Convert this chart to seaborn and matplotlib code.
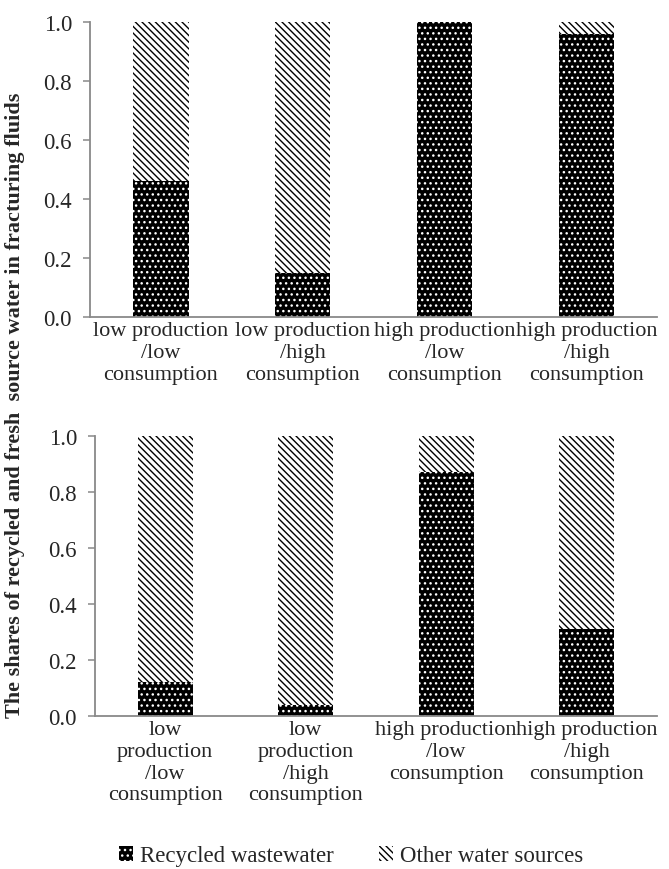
import matplotlib
matplotlib.use('Agg')
import matplotlib.pyplot as plt
from matplotlib.patches import Patch
from matplotlib.ticker import FixedLocator, FormatStrFormatter
import numpy as np
import pandas as pd
import seaborn as sns

# scenarios (tick labels differ a bit between the two panels)
labels_top = ['low production\n/low\nconsumption', 'low production\n/high\nconsumption',
              'high production\n/low\nconsumption', 'high production\n/high\nconsumption']
labels_bot = ['low\nproduction\n/low\nconsumption', 'low\nproduction\n/high\nconsumption',
              'high production\n/low\nconsumption', 'high production\n/high\nconsumption']

# shares of recycled wastewater / other water sources
recycled_top = [0.46, 0.15, 1.00, 0.96]
other_top = [0.54, 0.85, 0.00, 0.04]
recycled_bot = [0.12, 0.04, 0.87, 0.31]
other_bot = [0.88, 0.96, 0.13, 0.69]

GREY = '#898989'
H_OTHER = '\\\\\\\\\\'   # dense diagonal lines
H_RECY = '...'

sns.set_style('white')
plt.rcParams['font.family'] = ['Liberation Serif', 'DejaVu Serif']
plt.rcParams['hatch.linewidth'] = 1.0


def panel(ax, labels, recycled, other):
    df = pd.DataFrame({'scenario': labels,
                       'recycled': recycled,
                       'total': np.array(recycled) + np.array(other)})
    # stacked bars: full height with "other" hatch, then recycled part on top of it
    sns.barplot(data=df, x='scenario', y='total', ax=ax, color='white',
                edgecolor='black', linewidth=0, hatch=H_OTHER, width=0.39)
    sns.barplot(data=df, x='scenario', y='recycled', ax=ax, color='black',
                edgecolor='white', linewidth=0, hatch=H_RECY, width=0.39)
    ax.set_xlim(-0.5, 3.5)
    ax.set_ylim(0, 1.0)
    ax.set_yticks(np.arange(0, 1.01, 0.2))
    ax.yaxis.set_major_formatter(FormatStrFormatter('%.1f'))
    ax.set_xlabel('')
    ax.set_ylabel('')
    ax.set_xticks(range(4))
    ax.set_xticklabels(labels, fontsize=16, linespacing=1.2)
    ax.xaxis.set_minor_locator(FixedLocator([-0.5, 0.5, 1.5, 2.5, 3.5]))
    ax.tick_params(axis='x', which='major', length=0, pad=3)
    ax.tick_params(axis='x', which='minor', length=7, color=GREY, width=1.1, direction='out')
    ax.tick_params(axis='y', length=5, color=GREY, width=1.1, direction='out',
                   labelsize=16.5, pad=8, left=True)
    for s in ['top', 'right']:
        ax.spines[s].set_visible(False)
    for s in ['left', 'bottom']:
        ax.spines[s].set_color(GREY)
        ax.spines[s].set_linewidth(1.3)


fig = plt.figure(figsize=(6.69, 8.70), dpi=100)
ax1 = fig.add_axes([0.1345, 0.6345, 0.848, 0.339])
ax2 = fig.add_axes([0.142, 0.176, 0.840, 0.322])

panel(ax1, labels_top, recycled_top, other_top)
panel(ax2, labels_bot, recycled_bot, other_bot)

fig.text(15 / 669, 0.534,
         'The shares of recycled and fresh  source water in fracturing fluids',
         rotation=90, ha='center', va='center', fontsize=16, fontweight='bold')

handles = [Patch(facecolor='black', edgecolor='white', linewidth=0, hatch=H_RECY),
           Patch(facecolor='white', edgecolor='black', linewidth=0, hatch=H_OTHER)]
fig.legend(handles, ['Recycled wastewater', 'Other water sources'],
           loc='center', bbox_to_anchor=(0.525, 13 / 870), ncol=2, frameon=False,
           fontsize=16.5, handlelength=0.6, handleheight=0.6, handletextpad=0.3,
           columnspacing=2.0)

fig.savefig('out.png', dpi=100)
